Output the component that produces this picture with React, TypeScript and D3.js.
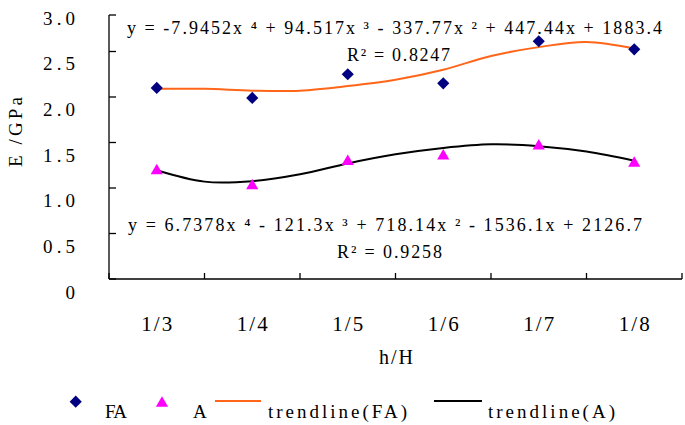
import React from "react";
import * as d3 from "d3";

const W = 685;
const H = 425;

const categories = ["1/3", "1/4", "1/5", "1/6", "1/7", "1/8"];
const faValues = [2.1, 1.99, 2.25, 2.15, 2.64, 2.53];
const aValues = [1.21, 1.045, 1.31, 1.37, 1.48, 1.29];

const trendSteps = [1, 1.5, 2, 2.5, 3, 3.5, 4, 4.5, 5, 5.5, 6];
const faTrend = [2.09, 2.09, 2.07, 2.07, 2.12, 2.19, 2.3, 2.45, 2.56, 2.63, 2.54];
const aTrend = [1.195, 1.07, 1.075, 1.15, 1.27, 1.37, 1.44, 1.48, 1.46, 1.4, 1.3];

const yTicks = [0, 0.5, 1, 1.5, 2, 2.5, 3];
const yTickLabels = ["0", "0.5", "1.0", "1.5", "2.0", "2.5", "3.0"];

const eqFA = "y = -7.9452x \u2074 + 94.517x \u00b3 - 337.77x \u00b2 + 447.44x + 1883.4";
const r2FA = "R\u00b2 = 0.8247";
const eqA = "y = 6.7378x \u2074 - 121.3x \u00b3 + 718.14x \u00b2 - 1536.1x + 2126.7";
const r2A = "R\u00b2 = 0.9258";

const FONT = "'Liberation Serif', 'DejaVu Serif', serif";
const ORANGE = "#ff6619";
const NAVY = "#000080";
const MAGENTA = "#ff00ff";

export default function App() {
  const left = 109;
  const right = 682;
  const bottom = 279;
  const top = 15;

  const x = d3.scaleBand<string>().domain(categories).range([left, right]);
  const xIdx = d3.scaleLinear().domain([0.5, categories.length + 0.5]).range([left, right]);
  const y = d3.scaleLinear().domain([0, 2.5, 3]).range([bottom, 51.5, top]);
  const yLab = d3.scaleLinear().domain([0, 3]).range([292, 18]);

  const line = d3
    .line<number>()
    .x((_, i) => xIdx(trendSteps[i]))
    .y((d) => y(d))
    .curve(d3.curveCatmullRom);

  const diamond = d3.symbol().type(d3.symbolSquare).size(74)()!;
  const triSize = 64;
  const triangle = d3.symbol().type(d3.symbolTriangle).size(triSize)()!;
  const triSide = Math.sqrt((triSize * 4) / Math.sqrt(3));
  const triOff = (triSide * Math.sqrt(3)) / 2 / 6;

  const cx = (c: string) => (x(c) as number) + x.bandwidth() / 2;
  const boundaries = [...categories.map((c) => x(c) as number), right];

  return (
    <svg
      width={W}
      height={H}
      style={{ position: "absolute", left: 0, top: 0, background: "#fff" }}
      fontFamily={FONT}
    >
      <rect x={0} y={0} width={W} height={H} fill="#fff" />

      {/* axes */}
      <line x1={left} x2={left} y1={top} y2={bottom} stroke="#000" strokeWidth={1.3} />
      <line x1={left} x2={right} y1={bottom} y2={bottom} stroke="#000" strokeWidth={1.3} />
      {yTicks.map((t) => (
        <line key={"yt" + t} x1={left} x2={left + 7} y1={y(t)} y2={y(t)} stroke="#000" strokeWidth={1.3} />
      ))}
      {boundaries.map((b, i) => (
        <line key={"xt" + i} x1={b} x2={b} y1={bottom} y2={bottom - 6} stroke="#000" strokeWidth={1.3} />
      ))}

      {/* y tick labels */}
      {yTicks.map((t, i) => (
        <text
          key={"yl" + t}
          x={75}
          y={yLab(t) + 6.5}
          fontSize={19}
          textAnchor="end"
          fill="#000"
          textLength={yTickLabels[i].length === 1 ? undefined : 32}
          lengthAdjust="spacing"
        >
          {yTickLabels[i]}
        </text>
      ))}

      {/* x tick labels */}
      {categories.map((c) => (
        <text
          key={"xl" + c}
          x={cx(c)}
          y={331}
          fontSize={21}
          textAnchor="middle"
          fill="#000"
          textLength={31}
          lengthAdjust="spacing"
        >
          {c}
        </text>
      ))}

      {/* axis titles */}
      <text x={396} y={364} fontSize={20} textAnchor="middle" textLength={34} lengthAdjust="spacing">
        h/H
      </text>
      <text
        transform={`translate(22,132) rotate(-90)`}
        fontSize={19}
        textAnchor="middle"
        textLength={70}
        lengthAdjust="spacing"
      >
        E /GPa
      </text>

      {/* trendlines */}
      <path d={line(faTrend)!} fill="none" stroke={ORANGE} strokeWidth={2} />
      <path d={line(aTrend)!} fill="none" stroke="#000" strokeWidth={2} />

      {/* points */}
      {faValues.map((v, i) => (
        <path
          key={"fa" + i}
          d={diamond}
          transform={`translate(${cx(categories[i])},${y(v)}) rotate(45)`}
          fill={NAVY}
        />
      ))}
      {aValues.map((v, i) => (
        <path
          key={"a" + i}
          d={triangle}
          transform={`translate(${cx(categories[i])},${y(v) + triOff})`}
          fill={MAGENTA}
        />
      ))}

      {/* equations */}
      <text x={127} y={34} fontSize={18} textLength={535} lengthAdjust="spacing">
        {eqFA}
      </text>
      <text x={347} y={61} fontSize={18} textLength={103} lengthAdjust="spacing">
        {r2FA}
      </text>
      <text x={128} y={231} fontSize={18} textLength={514} lengthAdjust="spacing">
        {eqA}
      </text>
      <text x={337} y={258} fontSize={18} textLength={105} lengthAdjust="spacing">
        {r2A}
      </text>

      {/* legend */}
      <path d={diamond} transform="translate(75.7,401.7) rotate(45)" fill={NAVY} />
      <text x={105} y={418} fontSize={19} textLength={22} lengthAdjust="spacing">
        FA
      </text>
      <path d={triangle} transform={`translate(162,${401.5 + triOff})`} fill={MAGENTA} />
      <text x={193} y={418} fontSize={19}>
        A
      </text>
      <line x1={215} x2={261} y1={401} y2={401} stroke={ORANGE} strokeWidth={2} />
      <text x={268} y={418} fontSize={19} textLength={139} lengthAdjust="spacing">
        trendline(FA)
      </text>
      <line x1={434} x2={482} y1={401} y2={401} stroke="#000" strokeWidth={2} />
      <text x={488} y={418} fontSize={19} textLength={127} lengthAdjust="spacing">
        trendline(A)
      </text>
    </svg>
  );
}
